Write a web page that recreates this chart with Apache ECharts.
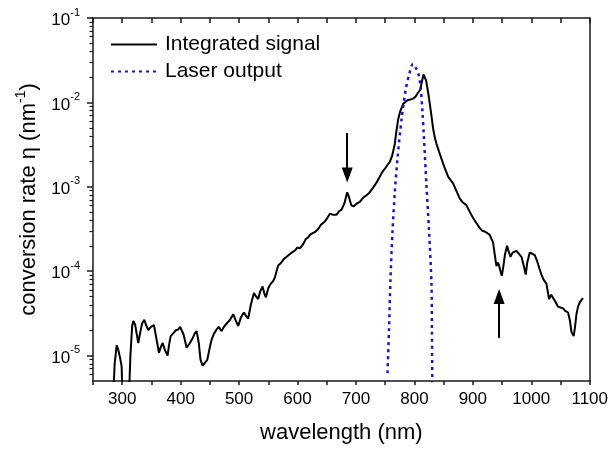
<!DOCTYPE html>
<html>
<head>
<meta charset="utf-8">
<script src="https://cdn.jsdelivr.net/npm/echarts@6/dist/echarts.min.js"></script>
<style>
html,body{margin:0;padding:0;background:#fff;}
#chart{width:611px;height:449px;}
</style>
</head>
<body>
<div id="chart"></div>
<script>
// ---- data ----
const signalWavelength = [284,287,290.5,294,297,299,301,311,314,317,319,322,325,327.5,331,334,337.8,341,344.6,349,354.3,358,362.9,366,369.2,373,377.7,380,382.9,388,392,395.9,399,401.7,405,410.2,415,420,424,427.3,431,434,437.6,442,445.5,449,453,457,461.6,465,470.1,474,478.7,484,490,494,498.5,503,508.3,512,515.6,520,525.4,529,532.7,536,540.2,543,545.9,550,553.9,558,561.3,564,567,572,576,581.3,586,590,595.5,600,604,609.7,614,618,621.1,626,631,635.4,640,643,646.8,651,655.3,660,666.8,671,675.3,680,685,688,692,696.4,701,706.6,712,718.1,723,729.4,735,740,743.8,750,755,758,762,766.5,769,772.2,776,780.7,785,789.3,793,797.8,802,806.4,810,813,815.5,818,820,823.5,827,830,832,835,837.8,842,846.4,852,857.7,862,866.2,872,877.7,882,889.1,895,900.4,906,911.9,916,920.4,925,929,932,934.6,937,940.4,943,944.9,947,949.5,952,955,958.6,961,964.4,968,971,974.7,978,983.2,987,990.6,993,997.4,1001,1006,1010,1014,1017.4,1021,1026,1030.4,1034,1037.3,1041,1045.8,1050,1054.4,1058,1062.9,1066,1068.7,1072.6,1075,1077.3,1080,1083,1086,1088.5];
const signalRate = [2.5e-6,7.9e-6,1.32e-5,1.12e-5,8.9e-6,7.4e-6,2.5e-6,2.5e-6,1.0e-5,2.24e-5,2.57e-5,2.34e-5,1.78e-5,1.41e-5,1.91e-5,2.40e-5,2.65e-5,2.29e-5,2.0e-5,2.19e-5,2.29e-5,1.66e-5,1.08e-5,1.26e-5,1.41e-5,1.17e-5,1.0e-5,1.32e-5,1.70e-5,1.86e-5,2.0e-5,2.04e-5,2.19e-5,2.29e-5,1.78e-5,1.24e-5,1.38e-5,1.58e-5,1.82e-5,1.95e-5,1.41e-5,8.9e-6,7.6e-6,8.3e-6,8.9e-6,1.17e-5,1.55e-5,1.82e-5,2.04e-5,2.19e-5,1.95e-5,2.19e-5,2.40e-5,2.63e-5,3.09e-5,2.63e-5,2.24e-5,2.82e-5,3.24e-5,2.95e-5,2.75e-5,3.98e-5,5.50e-5,5.01e-5,4.68e-5,5.75e-5,6.61e-5,5.50e-5,4.90e-5,6.31e-5,7.08e-5,7.59e-5,8.41e-5,1.0e-4,1.17e-4,1.26e-4,1.38e-4,1.48e-4,1.58e-4,1.66e-4,1.76e-4,1.91e-4,1.86e-4,2.09e-4,2.40e-4,2.51e-4,2.69e-4,2.82e-4,2.95e-4,3.16e-4,3.55e-4,3.47e-4,3.89e-4,4.27e-4,4.79e-4,4.68e-4,4.68e-4,5.13e-4,5.37e-4,6.31e-4,8.59e-4,7.59e-4,6.03e-4,5.89e-4,6.31e-4,6.61e-4,7.41e-4,7.94e-4,8.51e-4,9.77e-4,1.12e-3,1.29e-3,1.45e-3,1.66e-3,1.86e-3,1.97e-3,2.34e-3,3.24e-3,4.47e-3,6.31e-3,7.94e-3,9.55e-3,1.02e-2,1.07e-2,1.08e-2,1.11e-2,1.17e-2,1.31e-2,1.41e-2,1.78e-2,2.14e-2,2.09e-2,1.82e-2,1.31e-2,8.91e-3,6.31e-3,4.90e-3,3.80e-3,3.24e-3,2.63e-3,2.14e-3,1.66e-3,1.32e-3,1.20e-3,1.10e-3,8.91e-4,7.24e-4,6.61e-4,6.03e-4,5.01e-4,4.27e-4,3.72e-4,3.24e-4,3.02e-4,2.95e-4,2.82e-4,2.69e-4,2.40e-4,2.19e-4,1.66e-4,1.15e-4,1.26e-4,1.17e-4,1.02e-4,8.81e-5,1.12e-4,1.58e-4,2.0e-4,1.74e-4,1.48e-4,1.66e-4,1.58e-4,1.74e-4,1.66e-4,1.48e-4,1.17e-4,9.12e-5,1.26e-4,1.66e-4,1.62e-4,1.55e-4,1.32e-4,1.07e-4,9.12e-5,7.94e-5,7.08e-5,4.68e-5,5.25e-5,5.37e-5,4.37e-5,3.80e-5,3.72e-5,3.63e-5,3.39e-5,3.24e-5,2.63e-5,1.91e-5,1.70e-5,2.24e-5,3.09e-5,3.80e-5,4.27e-5,4.57e-5,4.79e-5];

const laserWavelength = [754,756.5,759,762.5,766.5,771,778,785.3,791,797.5,802,806.4,810.4,813.8,816.1,820.6,825.1,829.2,830,830.8];
const laserRate = [6.2e-6,2.0e-5,7.8e-5,2.95e-4,8.7e-4,2.14e-3,6.31e-3,1.43e-2,2.14e-2,2.85e-2,2.6e-2,2.24e-2,1.56e-2,7.6e-3,4.07e-3,1.05e-3,2.95e-4,7.08e-5,2.0e-5,2.5e-6];

// arrows: [wavelength, tail value, head value]
const arrowDown = [685, 4.35e-3, 1.38e-3];
const arrowUp = [945, 1.62e-5, 5.01e-5];

const xTickLabels = [300,400,500,600,700,800,900,1000,1100];
const yMajorTicks = [1e-5,1e-4,1e-3,1e-2,1e-1];
const yMinorTicks = [6e-6,7e-6,8e-6,9e-6,
  2e-5,3e-5,4e-5,5e-5,6e-5,7e-5,8e-5,9e-5,
  2e-4,3e-4,4e-4,5e-4,6e-4,7e-4,8e-4,9e-4,
  2e-3,3e-3,4e-3,5e-3,6e-3,7e-3,8e-3,9e-3,
  2e-2,3e-2,4e-2,5e-2,6e-2,7e-2,8e-2,9e-2];

const seriesNames = ['Integrated signal','Laser output'];
// ---------------------------------------

const FONT = '"Liberation Sans", Arial, Helvetica, sans-serif';
const AX = '#1a1a1a';

function zip(a,b){return a.map((v,i)=>[v,b[i]]);}

const chart = echarts.init(document.getElementById('chart'), null, {renderer:'canvas'});

const option = {
  animation:false,
  backgroundColor:'#fff',
  textStyle:{fontFamily:FONT,color:'#000'},
  grid:{left:93, right:21, top:18, bottom:64.5, containLabel:false},
  legend:{
    orient:'vertical', left:110, top:34, padding:0,
    itemWidth:46, itemHeight:14, itemGap:6,
    itemStyle:{opacity:0, color:'rgba(0,0,0,0)', borderWidth:0},
    textStyle:{fontFamily:FONT,fontSize:21,lineHeight:21,color:'#000',padding:[0,0,0,3]},
    data:seriesNames
  },
  xAxis:[{
    type:'value', position:'bottom', min:250, max:1100, interval:50,
    axisLine:{show:true,onZero:false,lineStyle:{color:AX,width:1.5}},
    axisTick:{show:true,inside:false,length:4,lineStyle:{color:AX,width:1.5}},
    axisLabel:{fontFamily:FONT,fontSize:17,color:'#000',margin:10,
      formatter:v=>xTickLabels.indexOf(v)>=0?String(v):''},
    splitLine:{show:false},
    name:'wavelength (nm)', nameLocation:'middle', nameGap:41,
    nameTextStyle:{fontFamily:FONT,fontSize:22,color:'#000'}
  },{
    type:'value', position:'top', min:250, max:1100, interval:50,
    axisLine:{show:true,onZero:false,lineStyle:{color:AX,width:1.5}},
    axisTick:{show:true,inside:true,length:5,lineStyle:{color:AX,width:1.5}},
    axisLabel:{show:false}, splitLine:{show:false}
  }],
  yAxis:[{
    type:'log', logBase:10, position:'left', min:5e-6, max:0.1,
    axisLine:{show:true,onZero:false,lineStyle:{color:AX,width:1.5}},
    axisTick:{show:true,inside:false,length:6,customValues:yMajorTicks,lineStyle:{color:AX,width:1.5}},
    axisLabel:{customValues:yMajorTicks, margin:13, color:'#000',
      formatter:v=>{const e=Math.round(Math.log10(v));return '{b|10}{s|'+e+'}';},
      rich:{
        b:{fontFamily:FONT,fontSize:17,lineHeight:22,verticalAlign:'bottom',color:'#000'},
        s:{fontFamily:FONT,fontSize:11,lineHeight:11,verticalAlign:'top',color:'#000'}
      }},
    splitLine:{show:false},
    name:'{a|conversion rate η (nm}{s|-1}{a|)}', nameLocation:'middle', nameGap:47,
    nameTextStyle:{
      rich:{
        a:{fontFamily:FONT,fontSize:22,lineHeight:26,verticalAlign:'bottom',color:'#000'},
        s:{fontFamily:FONT,fontSize:14,lineHeight:14,verticalAlign:'top',color:'#000'}
      }
    }
  },{
    type:'log', logBase:10, position:'left', min:5e-6, max:0.1,
    axisLine:{show:false},
    axisTick:{show:true,inside:false,length:3.5,customValues:yMinorTicks,lineStyle:{color:AX,width:1.2}},
    axisLabel:{show:false}, splitLine:{show:false}
  },{
    type:'log', logBase:10, position:'right', min:5e-6, max:0.1,
    axisLine:{show:true,onZero:false,lineStyle:{color:AX,width:1.5}},
    axisTick:{show:false}, axisLabel:{show:false}, splitLine:{show:false}
  }],
  series:[{
    name:seriesNames[0], type:'line', xAxisIndex:0, yAxisIndex:0,
    data:zip(signalWavelength,signalRate),
    showSymbol:false, symbol:'none', clip:true,
    lineStyle:{color:'#000',width:2},
    itemStyle:{color:'#000'},
    markLine:{
      silent:true, animation:false,
      label:{show:false},
      lineStyle:{color:'#000',width:2,type:'solid'},
      data:[
        [{coord:[arrowDown[0],arrowDown[1]],symbol:'none'},{coord:[arrowDown[0],arrowDown[2]],symbol:'triangle',symbolSize:[11,15]}],
        [{coord:[arrowUp[0],arrowUp[1]],symbol:'none'},{coord:[arrowUp[0],arrowUp[2]],symbol:'triangle',symbolSize:[11,15]}]
      ]
    }
  },{
    name:seriesNames[1], type:'line', xAxisIndex:0, yAxisIndex:0,
    data:zip(laserWavelength,laserRate),
    showSymbol:false, symbol:'none', clip:true, smooth:0.3,
    lineStyle:{color:'#1414d2',width:2.5,type:[3,4]},
    itemStyle:{color:'#1414d2'}
  }]
};
chart.setOption(option);
</script>
</body>
</html>
